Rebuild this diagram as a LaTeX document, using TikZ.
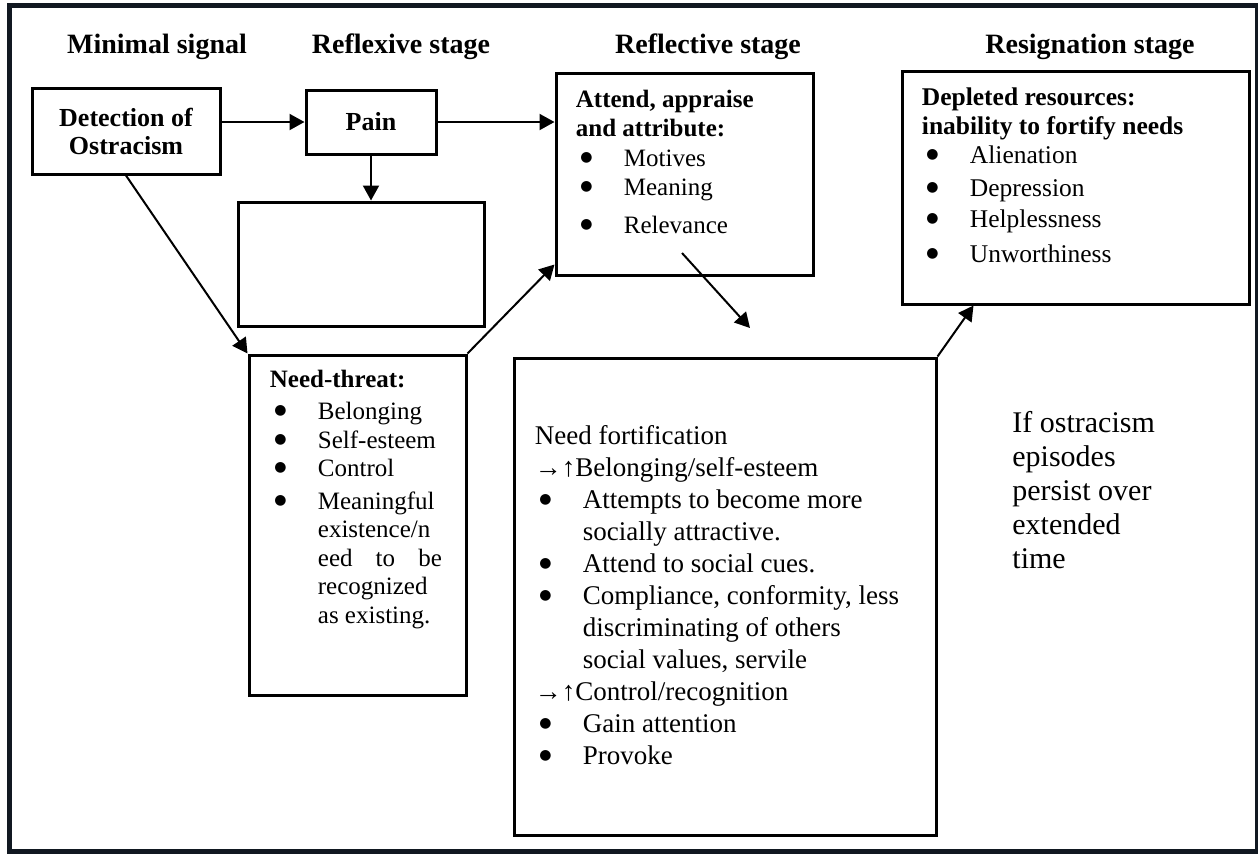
\documentclass[tikz,border=0pt]{standalone}
\usepackage{fontspec}
\setmainfont{Liberation Serif}
\newfontfamily\dotfont{DejaVu Sans}
\usetikzlibrary{arrows.meta}
\definecolor{framenavy}{RGB}{17,24,33}
\newcommand{\bul}[1]{\hspace*{2.25pt}\makebox[21.75pt][l]{\raisebox{2.5pt}{\dotfont\fontsize{7}{7}\selectfont ●}}#1}
\newcommand{\cont}[1]{\hspace*{24pt}#1}

\begin{document}
\begin{tikzpicture}[x=0.5pt,y=-0.5pt,
  box/.style={draw,line width=1.5pt,inner sep=0pt},
  txt/.style={inner sep=0pt,anchor=north west,align=left},
  title/.style={font={\fontsize{14}{16}\selectfont\bfseries},anchor=base},
  arr/.style={line width=1pt,-{Triangle[length=7.5pt,width=8pt]}}]
  \useasboundingbox (0,0) rectangle (1258,853);
  \draw[framenavy,line width=2.5pt] (9.5,5.5) rectangle (1257.5,851.5); %Outer frame

  % stage titles
  \node[title] (tminimal) at (157,53) {Minimal signal};
  \node[title] (treflexive) at (401,53) {Reflexive stage};
  \node[title] (treflective) at (708,53) {Reflective stage};
  \node[title] (tresign) at (1090,53) {Resignation stage};

  % boxes
  \node[box,minimum width=94pt,minimum height=43pt,align=center,
        font={\fontsize{13}{14}\selectfont\bfseries}] (detect) at (126,131) {Detection of\\Ostracism};
  \node[box,minimum width=65pt,minimum height=32pt,
        font={\fontsize{13}{14}\selectfont\bfseries}] (pain) at (371,122) {Pain};
  \node[box,minimum width=123pt,minimum height=62pt] (blank) at (361,264) {}; %empty box
  \node[box,minimum width=108.5pt,minimum height=170pt] (need) at (357.5,525) {};
  \node[box,minimum width=128.5pt,minimum height=101pt] (reflect) at (684.5,174) {};
  \node[box,minimum width=211pt,minimum height=238.5pt] (fort) at (725,596.5) {};
  \node[box,minimum width=173.5pt,minimum height=116.5pt] (resign) at (1075.5,187.5) {};

  % box texts
  \node[txt,font={\fontsize{12.5}{14.75}\selectfont}] (reflecttxt) at ([xshift=10.5pt,yshift=-9pt]reflect.north west)
    {\textbf{Attend, appraise}\\\textbf{and attribute:}\\\bul{Motives}\\\bul{Meaning}\\[4pt]\bul{Relevance}};
  \node[txt,font={\fontsize{12.75}{14.5}\selectfont}] (resigntxt) at ([xshift=10.5pt,yshift=-9pt]resign.north west)
    {\textbf{Depleted resources:}\\\textbf{inability to fortify needs}\\\bul{Alienation}\\[2pt]\bul{Depression}\\[1pt]\bul{Helplessness}\\[3pt]\bul{Unworthiness}};
  \node[txt,font={\fontsize{12.5}{14.25}\selectfont}] (needtxt) at ([xshift=11pt,yshift=-8pt]need.north west)
    {\textbf{Need-threat:}\\[2pt]\bul{Belonging}\\\bul{Self-esteem}\\\bul{Control}\\[2pt]\bul{Meaningful}\\\cont{existence/n}\\\cont{\makebox[62pt][s]{eed to be}}\\\cont{recognized}\\\cont{as existing.}};
  \node[txt,font={\fontsize{13.5}{16}\selectfont}] (forttxt) at ([xshift=11pt,yshift=-34.5pt]fort.north west)
    {Need fortification\\→↑Belonging/self-esteem\\\bul{Attempts to become more}\\\cont{socially attractive.}\\\bul{Attend to social cues.}\\\bul{Compliance, conformity, less}\\\cont{discriminating of others}\\\cont{social values, servile}\\→↑Control/recognition\\\bul{Gain attention}\\\bul{Provoke}};
  \node[txt,font={\fontsize{15}{17}\selectfont}] (persisttxt) at (1012,411)
    {If ostracism\\episodes\\persist over\\extended\\time};

  % arrows
  \coordinate (rout) at (682,253);
  \coordinate (fin) at (750,328);
  \draw[arr] (detect.east |- pain.west) -- (pain.west);
  \draw[arr] (pain.east) -- (reflect.west |- pain.east);
  \draw[arr] (pain.south) -- (pain.south |- blank.north);
  \draw[arr] (detect.south) -- (need.north west);
  \draw[arr] (need.north east) -- ([yshift=6pt]reflect.south west);
  \draw[arr] (rout) -- (fin);
  \draw[arr] (fort.north east) -- ([xshift=36.5pt]resign.south west);
\end{tikzpicture}
\end{document}
